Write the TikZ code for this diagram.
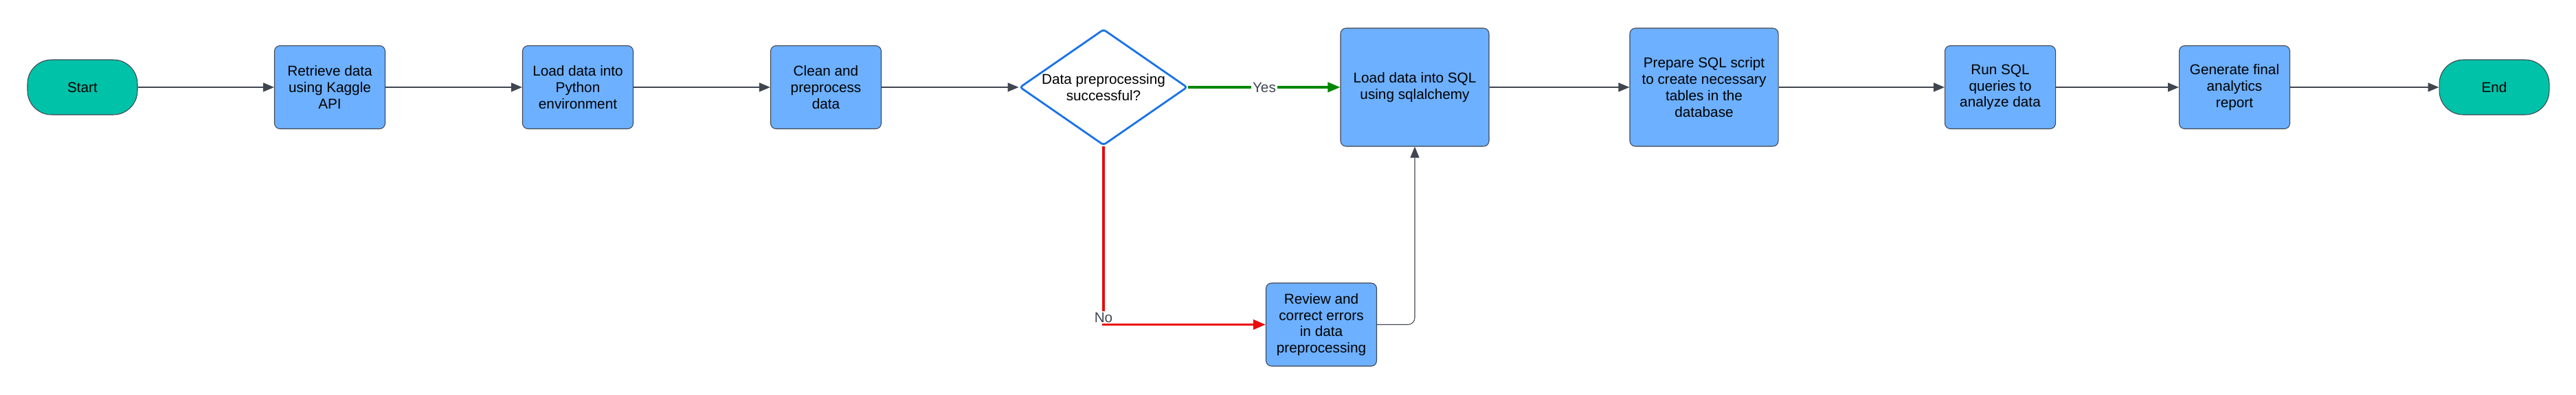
\documentclass[tikz,border=0pt]{standalone}
\usepackage{fontspec}
\setmainfont{Liberation Sans}
\usepackage{xcolor}
\usepackage{tikz}
\usetikzlibrary{shapes.geometric, arrows.meta, positioning, calc}
\definecolor{terminalcolor}{RGB}{0, 194, 168}
\definecolor{processcolor}{RGB}{108, 176, 255}
\definecolor{decisioncolor}{RGB}{26, 115, 232}
\definecolor{edgecolor}{RGB}{64, 70, 80}
\definecolor{yescolor}{RGB}{0, 135, 0}
\definecolor{nocolor}{RGB}{232, 12, 12}
\tikzstyle{startstop} = [rectangle, rounded corners=0.7cm, minimum width=3.2cm, minimum height=1.6cm, text centered, draw=edgecolor, line width=0.6pt, fill=terminalcolor]
\tikzstyle{process} = [rectangle, rounded corners=0.16cm, minimum width=3.22cm, minimum height=2.42cm, align=center, draw=edgecolor, line width=0.6pt, fill=processcolor]
\tikzstyle{decision} = [diamond, aspect=1.44, inner sep=0pt, minimum width=4.88cm, minimum height=3.38cm, align=center, draw=decisioncolor, line width=1.6pt, rounded corners=2pt, fill=white]
\tikzstyle{arrow} = [line width=0.9pt, draw=edgecolor, -{Triangle[length=0.32cm, width=0.26cm]}]
\tikzstyle{branch} = [line width=2pt, -{Triangle[length=0.36cm, width=0.28cm]}]
\tikzstyle{branchlabel} = [fill=white, text=edgecolor, inner sep=1pt]

\begin{document}
\begin{tikzpicture}[font=\fontsize{11.8}{13.5}\selectfont]
    \useasboundingbox (0, 0) rectangle (74.98, -11.48);

    % Main row
    \node[startstop] (start) at (2.40, -2.54) {Start};
    \node[process] (retrieve) at (9.60, -2.54) {Retrieve data\\using Kaggle\\API};
    \node[process] (loadpy) at (16.82, -2.54) {Load data into\\Python\\environment};
    \node[process] (clean) at (24.04, -2.54) {Clean and\\preprocess\\data};
    \node[decision] (check) at (32.12, -2.54) {Data preprocessing\\successful?};
    \node[process, minimum width=4.32cm, minimum height=3.44cm] (loadsql) at (41.18, -2.54) {Load data into SQL\\using sqlalchemy};
    \node[process, minimum width=4.32cm, minimum height=3.44cm] (prepare) at (49.60, -2.54) {Prepare SQL script\\to create necessary\\tables in the\\database};
    \node[process] (runsql) at (58.22, -2.54) {Run SQL\\queries to\\analyze data};
    \node[process] (report) at (65.04, -2.54) {Generate final\\analytics\\report};
    \node[startstop] (end) at (72.60, -2.54) {End};

    % Error branch
    \node[process] (review) at (38.46, -9.45) {Review and\\correct errors\\in data\\preprocessing};

    % Arrows - main row
    \draw[arrow] (start) -- (retrieve);
    \draw[arrow] (retrieve) -- (loadpy);
    \draw[arrow] (loadpy) -- (clean);
    \draw[arrow] (clean) -- (check);
    \draw[arrow] (loadsql) -- (prepare);
    \draw[arrow] (prepare) -- (runsql);
    \draw[arrow] (runsql) -- (report);
    \draw[arrow] (report) -- (end);

    % Arrows - decision
    \draw[branch, yescolor] (check) -- node[branchlabel] {Yes} (loadsql);
    \draw[branch, nocolor] (check.south) |- node[branchlabel, pos=0.48] {No} (review.west);
    \draw[arrow, line width=0.6pt, rounded corners=0.2cm] (review.east) -| (loadsql.south);
\end{tikzpicture}
\end{document}
